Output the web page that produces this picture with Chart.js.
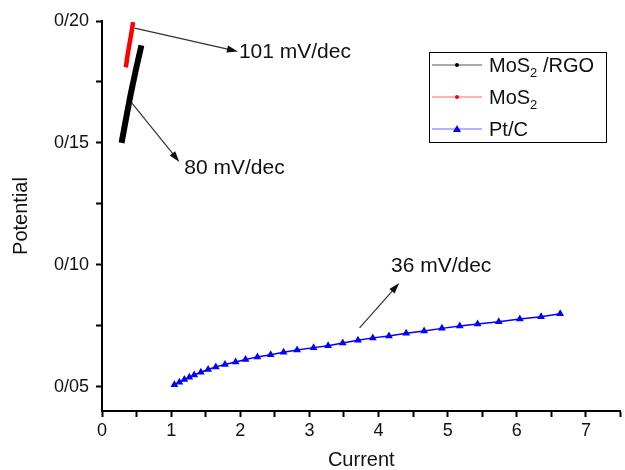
<!DOCTYPE html>
<html lang="en">

<head>
    <meta charset="UTF-8">
    <title>Tafel plot</title>
    <style>
        html, body { margin: 0; padding: 0; background: #fff; }
        .zone { width: 625px; height: 470px; }
    </style>
</head>

<body>
    <div class="zone">
        <canvas id="myChart" width="625" height="470"></canvas>
    </div>

    <script src="https://cdn.jsdelivr.net/npm/chart.js"></script>
    <script>
        // values
        const rgoX = [0.283, 0.348, 0.415, 0.49, 0.57];
        const rgoY = [0.150, 0.160, 0.170, 0.180, 0.190];
        const mosX = [0.345, 0.37, 0.40, 0.425, 0.45];
        const mosY = [0.181, 0.186, 0.191, 0.195, 0.1995];
        const ptcX = [1.047, 1.119, 1.191, 1.263, 1.334, 1.430, 1.535, 1.646, 1.779, 1.933,
            2.076, 2.248, 2.439, 2.626, 2.822, 3.060, 3.271, 3.482, 3.702, 3.917,
            4.151, 4.400, 4.659, 4.917, 5.175, 5.433, 5.739, 6.044, 6.351, 6.628];
        const ptcY = [0.0508, 0.0518, 0.0529, 0.0538, 0.0548, 0.0559, 0.0570, 0.0581, 0.0591, 0.0601,
            0.0611, 0.0622, 0.0631, 0.0641, 0.0650, 0.0660, 0.0668, 0.0679, 0.0690, 0.0700,
            0.0708, 0.0719, 0.0728, 0.0739, 0.0749, 0.0757, 0.0766, 0.0777, 0.0787, 0.0799];

        const seriesNames = ['MoS2 /RGO', 'MoS2', 'Pt/C'];
        const slopeLabels = ['101 mV/dec', '80 mV/dec', '36 mV/dec'];
        // arrow tail, arrow head and label anchor, in data units
        const arrowFromX = [0.473, 0.430, 3.726];
        const arrowFromY = [0.1971, 0.1664, 0.0741];
        const arrowToX = [1.966, 1.119, 4.30];
        const arrowToY = [0.1875, 0.1422, 0.0925];
        const labelX = [1.98, 1.19, 4.18];
        const labelY = [0.1873, 0.1398, 0.0993];

        const font = '"Liberation Sans", Arial, sans-serif';

        function pts(xs, ys) {
            return xs.map((x, i) => ({ x: x, y: ys[i] }));
        }

        const notes = {
            id: 'notes',
            afterDraw(chart) {
                const c = chart.ctx;
                const sx = chart.scales.x;
                const sy = chart.scales.y;
                c.save();

                // slope arrows and labels
                for (let i = 0; i < slopeLabels.length; i++) {
                    const x1 = sx.getPixelForValue(arrowFromX[i]);
                    const y1 = sy.getPixelForValue(arrowFromY[i]);
                    const x2 = sx.getPixelForValue(arrowToX[i]);
                    const y2 = sy.getPixelForValue(arrowToY[i]);
                    const a = Math.atan2(y2 - y1, x2 - x1);
                    c.strokeStyle = '#333';
                    c.fillStyle = '#111';
                    c.lineWidth = 1.2;
                    c.beginPath();
                    c.moveTo(x1, y1);
                    c.lineTo(x2 - 6 * Math.cos(a), y2 - 6 * Math.sin(a));
                    c.stroke();
                    c.beginPath();
                    c.moveTo(x2, y2);
                    c.lineTo(x2 - 11 * Math.cos(a) + 3.5 * Math.sin(a), y2 - 11 * Math.sin(a) - 3.5 * Math.cos(a));
                    c.lineTo(x2 - 11 * Math.cos(a) - 3.5 * Math.sin(a), y2 - 11 * Math.sin(a) + 3.5 * Math.cos(a));
                    c.closePath();
                    c.fill();

                    c.font = '21px ' + font;
                    c.textAlign = 'left';
                    c.textBaseline = 'middle';
                    c.fillText(slopeLabels[i], sx.getPixelForValue(labelX[i]), sy.getPixelForValue(labelY[i]));
                }

                // legend box
                const bx = 429, by = 52, bw = 177, bh = 90;
                c.strokeStyle = '#000';
                c.lineWidth = 1;
                c.strokeRect(bx + 0.5, by + 0.5, bw, bh);
                chart.data.datasets.forEach((ds, i) => {
                    const ly = by + 13 + i * 32;
                    c.strokeStyle = ds.legendColor;
                    c.lineWidth = 1;
                    c.beginPath();
                    c.moveTo(bx + 3, ly);
                    c.lineTo(bx + 53, ly);
                    c.stroke();
                    c.fillStyle = ds.borderColor;
                    c.beginPath();
                    if (ds.pointStyle === 'triangle') {
                        c.moveTo(bx + 28, ly - 4);
                        c.lineTo(bx + 32, ly + 3);
                        c.lineTo(bx + 24, ly + 3);
                        c.closePath();
                    } else {
                        c.arc(bx + 28, ly, 2, 0, Math.PI * 2);
                    }
                    c.fill();

                    const name = seriesNames[i];
                    let tx = bx + 60;
                    c.fillStyle = '#111';
                    c.textAlign = 'left';
                    c.textBaseline = 'middle';
                    const k = name.indexOf('2');
                    if (k >= 0) {
                        const head = name.slice(0, k);
                        const tail = name.slice(k + 1);
                        c.font = '20px ' + font;
                        c.fillText(head, tx, ly + 1);
                        tx += c.measureText(head).width;
                        c.font = '13px ' + font;
                        c.fillText('2', tx, ly + 8);
                        tx += c.measureText('2').width;
                        c.font = '20px ' + font;
                        c.fillText(tail, tx, ly + 1);
                    } else {
                        c.font = '20px ' + font;
                        c.fillText(name, tx, ly + 1);
                    }
                });
                c.restore();
            }
        };

        new Chart(document.getElementById('myChart'), {
            type: 'scatter',
            data: {
                datasets: [{
                    label: seriesNames[0],
                    data: pts(rgoX, rgoY),
                    showLine: true,
                    borderColor: '#000',
                    legendColor: '#555',
                    backgroundColor: '#000',
                    borderWidth: 6,
                    pointRadius: 0
                }, {
                    label: seriesNames[1],
                    data: pts(mosX, mosY),
                    showLine: true,
                    borderColor: '#ff0000',
                    legendColor: '#ff6a6a',
                    backgroundColor: '#ff0000',
                    borderWidth: 4.5,
                    pointRadius: 0
                }, {
                    label: seriesNames[2],
                    data: pts(ptcX, ptcY),
                    showLine: true,
                    borderColor: '#0000ff',
                    legendColor: '#6a6aff',
                    backgroundColor: '#0000ff',
                    borderWidth: 1.5,
                    pointStyle: 'triangle',
                    pointRadius: 4.5,
                    pointBorderWidth: 0
                }]
            },
            options: {
                responsive: false,
                animation: false,
                layout: { padding: { top: 21, right: 0, left: 0, bottom: 0 } },
                plugins: {
                    legend: { display: false },
                    tooltip: { enabled: false }
                },
                scales: {
                    x: {
                        type: 'linear',
                        min: 0,
                        max: 7.5,
                        afterFit: s => { s.height = 59; },
                        border: { display: true, color: '#000', width: 2 },
                        grid: { drawOnChartArea: false, drawTicks: true, tickLength: 6, tickWidth: 2, tickColor: '#000' },
                        ticks: {
                            stepSize: 0.5,
                            includeBounds: false,
                            autoSkip: false,
                            maxRotation: 0,
                            padding: 3,
                            color: '#111',
                            font: { size: 18, family: font },
                            callback: v => Number.isInteger(v) ? String(v) : ''
                        },
                        title: {
                            display: true,
                            text: 'Current',
                            color: '#111',
                            font: { size: 20, family: font, lineHeight: 1 },
                            padding: 0
                        }
                    },
                    y: {
                        type: 'linear',
                        min: 0.04,
                        max: 0.20,
                        afterFit: s => { s.width = 102; },
                        border: { display: true, color: '#000', width: 2 },
                        grid: { drawOnChartArea: false, drawTicks: true, tickLength: 6, tickWidth: 2, tickColor: '#000' },
                        ticks: {
                            stepSize: 0.025,
                            includeBounds: false,
                            autoSkip: false,
                            padding: 7,
                            color: '#111',
                            font: { size: 18, family: font },
                            callback: v => Math.round(v * 1000) % 50 === 0 ? v.toFixed(2).replace('.', '/') : ''
                        },
                        title: {
                            display: true,
                            text: 'Potential',
                            color: '#111',
                            font: { size: 20, family: font, lineHeight: 1 },
                            padding: { top: 11, bottom: 0 }
                        }
                    }
                }
            },
            plugins: [notes]
        });
    </script>
</body>

</html>
